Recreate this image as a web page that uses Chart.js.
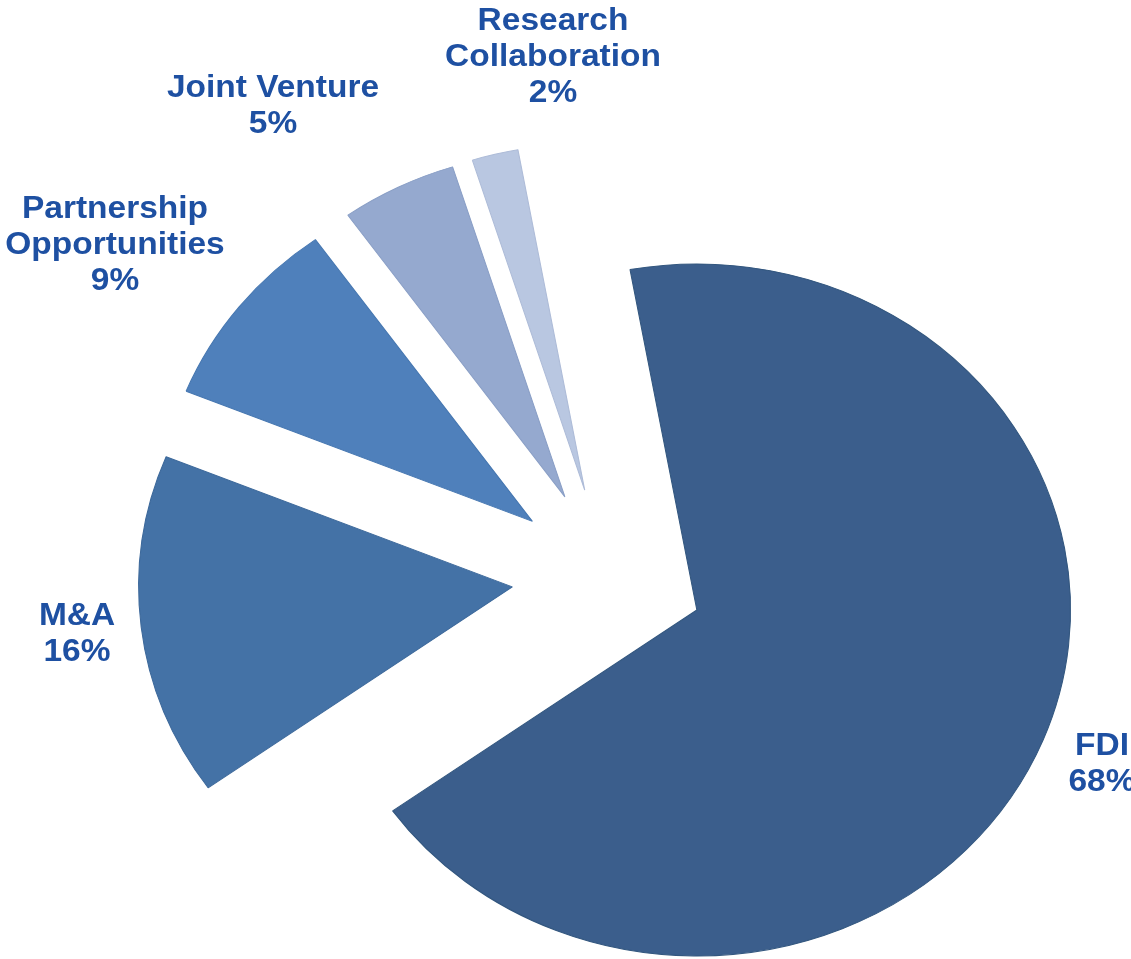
<!DOCTYPE html>
<html>
<head>
<meta charset="utf-8">
<title>Engagement types</title>
<script src="https://cdn.jsdelivr.net/npm/chart.js@4/dist/chart.umd.min.js"></script>
<style>
  html, body { margin: 0; padding: 0; background: #ffffff; }
  #wrap { width: 1131px; height: 959px; position: relative; }
</style>
</head>
<body>
<div id="wrap"><canvas id="chart" width="1131" height="959"></canvas></div>
<script>
// Categories (each entry is the label's lines) and their shares in percent
const categories = [
  ['FDI'],
  ['M&A'],
  ['Partnership', 'Opportunities'],
  ['Joint Venture'],
  ['Research', 'Collaboration']
];
const shares = [68, 16, 9, 5, 2];

// Slice fills and edge shades
const sliceColors = ['#3b5e8c', '#4472a6', '#4f80bb', '#95a9cf', '#b9c7e1'];
const edgeColors  = ['#33577f', '#3d699b', '#4677b1', '#8a9fc6', '#aebcd8'];

// Label anchor: centre x and first baseline y of each label block
const labelAnchors = [
  { x: 1102, y: 755 },
  { x: 77,   y: 625 },
  { x: 115,  y: 218 },
  { x: 273,  y: 97 },
  { x: 553,  y: 30 }
];

const STRETCH_X = 1.08;   // horizontal scale of the whole pie
const EXPLODE = 89;       // distance every slice is pulled out from the centre
const LINE_HEIGHT = 36;
const LABEL_COLOR = '#1e50a2';
const LABEL_FONT = 'bold 31px "Liberation Sans", Arial, sans-serif';

// Draws each slice pulled outward along its bisector, with the pie stretched horizontally
const explodedSlices = {
  id: 'explodedSlices',
  beforeDatasetDraw(chart, args) {
    const ctx = chart.ctx;
    const arcs = args.meta.data;
    if (!arcs.length) return false;
    const cx = arcs[0].x, cy = arcs[0].y;
    ctx.save();
    ctx.translate(cx, cy);
    ctx.scale(STRETCH_X, 1);
    ctx.translate(-cx, -cy);
    arcs.forEach(arc => {
      const mid = (arc.startAngle + arc.endAngle) / 2;
      ctx.save();
      ctx.translate(Math.cos(mid) * EXPLODE, Math.sin(mid) * EXPLODE);
      arc.draw(ctx);
      ctx.restore();
    });
    ctx.restore();
    return false;
  }
};

// Category name and percentage written beside each slice
const sliceLabels = {
  id: 'sliceLabels',
  afterDatasetsDraw(chart) {
    const ctx = chart.ctx;
    const labels = chart.data.labels;
    const values = chart.data.datasets[0].data;
    ctx.save();
    ctx.fillStyle = LABEL_COLOR;
    ctx.font = LABEL_FONT;
    ctx.textAlign = 'center';
    ctx.textBaseline = 'alphabetic';
    labels.forEach((lines, i) => {
      const anchor = labelAnchors[i];
      const text = lines.concat([values[i] + '%']);
      text.forEach((line, k) => {
        ctx.save();
        ctx.translate(anchor.x, anchor.y + k * LINE_HEIGHT);
        ctx.scale(STRETCH_X, 1);
        ctx.fillText(line, 0, 0);
        ctx.restore();
      });
    });
    ctx.restore();
  }
};

new Chart(document.getElementById('chart'), {
  type: 'pie',
  data: {
    labels: categories,
    datasets: [{
      data: shares,
      backgroundColor: sliceColors,
      borderColor: edgeColors,
      borderWidth: 1,
      clip: false
    }]
  },
  options: {
    responsive: false,
    animation: false,
    rotation: -10.3,
    radius: 346,
    layout: { padding: { left: 84.6, right: 0, top: 194, bottom: 0 } },
    plugins: {
      legend: { display: false },
      tooltip: { enabled: false }
    }
  },
  plugins: [explodedSlices, sliceLabels]
});
</script>
</body>
</html>
